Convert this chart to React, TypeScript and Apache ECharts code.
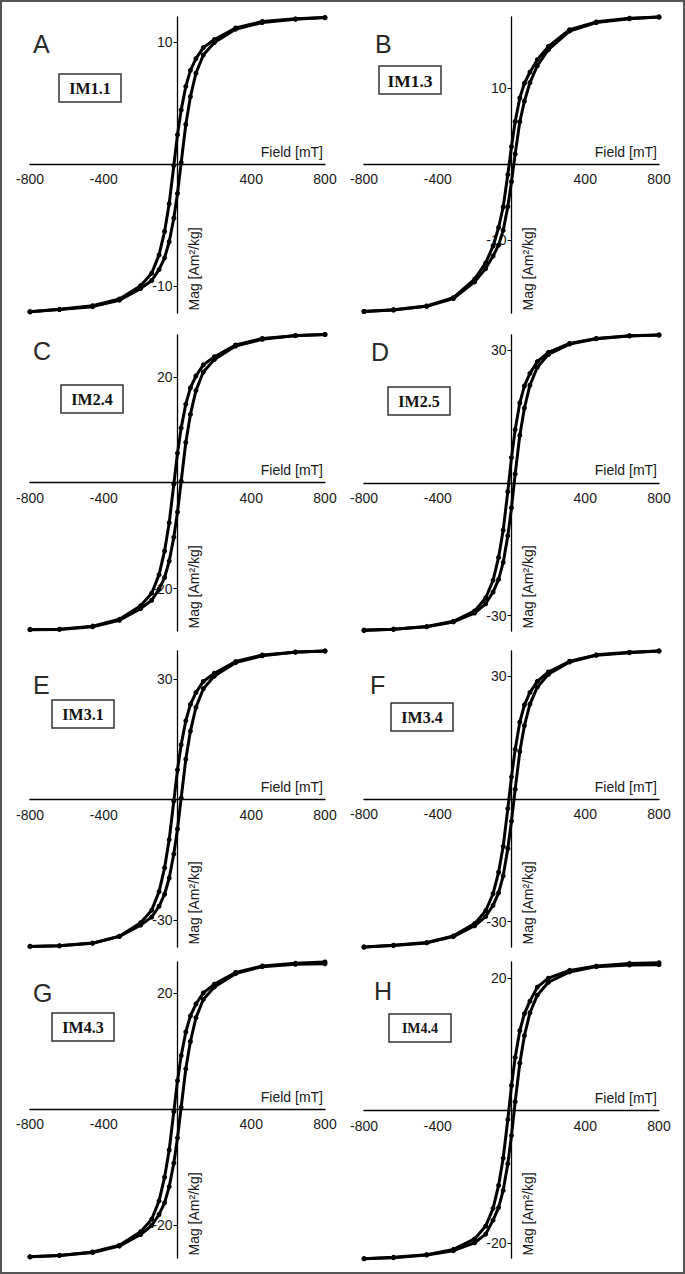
import React, { useEffect, useRef } from 'react';
import * as echarts from 'echarts';

// Applied field (mT): descending branch and ascending branch
const FIELD_DESC = [800, 640, 460, 315, 200, 140, 100, 70, 45, 20, 0, -20, -45, -70, -100, -140, -200, -315, -460, -640, -800];
const FIELD_ASC = [-800, -640, -460, -315, -200, -140, -100, -70, -45, -20, 0, 20, 45, 70, 100, 140, 200, 315, 460, 640, 800];

// Magnetization (Am²/kg) per sample, descending / ascending branch
const IM11_DESC = [12.0, 11.9, 11.68, 11.15, 10.2, 9.54, 8.64, 7.68, 6.36, 4.44, 2.4, -0.12, -3.24, -5.52, -7.44, -8.94, -9.96, -11.05, -11.6, -11.9, -12.1];
const IM11_ASC = [-12.1, -11.92, -11.68, -11.15, -10.2, -9.54, -8.64, -7.68, -6.36, -4.44, -2.4, 0.12, 3.24, 5.52, 7.44, 8.94, 9.96, 11.05, 11.6, 11.86, 12.0];

const IM13_DESC = [19.4, 19.24, 18.76, 17.73, 15.52, 13.77, 12.13, 10.67, 8.73, 5.63, 2.33, -1.36, -5.63, -8.34, -10.77, -13.0, -15.13, -17.58, -18.68, -19.17, -19.4];
const IM13_ASC = [-19.4, -19.2, -18.72, -17.7, -15.5, -13.75, -12.1, -10.65, -8.7, -5.6, -2.3, 1.36, 5.6, 8.3, 10.75, 12.98, 15.1, 17.55, 18.66, 19.16, 19.4];

const IM24_DESC = [28.0, 27.78, 27.24, 26.01, 23.8, 22.26, 20.16, 17.92, 14.84, 10.36, 5.6, -0.28, -7.56, -12.88, -17.36, -20.86, -23.24, -25.79, -27.08, -27.66, -27.72];
const IM24_ASC = [-27.75, -27.7, -27.2, -25.98, -23.78, -22.2, -20.1, -17.9, -14.8, -10.3, -5.55, 0.3, 7.6, 12.9, 17.4, 20.9, 23.28, 25.82, 27.1, 27.8, 28.0];

const IM25_DESC = [33.4, 33.23, 32.63, 31.5, 29.49, 27.39, 24.72, 21.88, 18.04, 12.02, 5.68, -2.0, -10.69, -16.87, -22.04, -26.05, -28.96, -31.3, -32.5, -33.1, -33.4];
const IM25_ASC = [-33.3, -33.1, -32.55, -31.45, -29.45, -27.35, -24.7, -21.85, -18.0, -12.0, -5.65, 2.0, 10.7, 16.9, 22.05, 26.1, 29.0, 31.35, 32.55, 33.2, 33.4];

const IM31_DESC = [37.0, 36.7, 36.0, 34.37, 31.45, 29.42, 26.64, 23.68, 19.61, 13.69, 7.4, -0.37, -9.99, -17.02, -22.94, -27.57, -30.71, -34.08, -35.78, -36.45, -36.6];
const IM31_ASC = [-36.6, -36.45, -35.8, -34.1, -31.3, -29.3, -26.6, -23.6, -19.55, -13.6, -7.35, 0.4, 10.0, 17.05, 22.95, 27.6, 30.75, 34.1, 35.8, 36.75, 37.0];

const IM34_DESC = [36.2, 35.91, 35.26, 33.7, 31.06, 28.78, 26.06, 22.99, 18.82, 12.13, 5.43, -2.35, -11.58, -17.92, -23.17, -27.33, -30.48, -33.49, -35.11, -35.77, -36.2];
const IM34_ASC = [-36.2, -35.85, -35.2, -33.65, -31.0, -28.75, -26.0, -22.95, -18.8, -12.1, -5.4, 2.4, 11.6, 17.95, 23.2, 27.35, 30.5, 33.5, 35.15, 35.8, 36.2];

const IM43_DESC = [25.4, 25.2, 24.71, 23.6, 21.59, 20.07, 18.16, 16.13, 13.34, 9.27, 4.95, -0.38, -6.99, -11.68, -15.75, -18.92, -21.08, -23.39, -24.56, -25.15, -25.4];
const IM43_ASC = [-25.4, -25.15, -24.65, -23.55, -21.55, -20.0, -18.1, -16.1, -13.3, -9.25, -4.9, 0.4, 7.0, 11.7, 15.8, 18.95, 21.1, 23.4, 24.6, 25.0, 25.1];

const IM44_DESC = [22.3, 22.19, 21.79, 21.14, 19.96, 18.62, 16.5, 14.61, 12.04, 8.03, 3.79, -1.34, -7.14, -11.26, -14.72, -17.39, -19.33, -20.9, -21.7, -22.1, -22.3];
const IM44_ASC = [-22.3, -22.15, -21.75, -21.1, -19.9, -18.6, -16.5, -14.6, -12.0, -8.0, -3.75, 1.35, 7.15, 11.3, 14.75, 17.4, 19.35, 20.9, 21.7, 21.95, 22.0];

const PANEL_LETTERS = ['A', 'B', 'C', 'D', 'E', 'F', 'G', 'H'];
const SAMPLE_NAMES = ['IM1.1', 'IM1.3', 'IM2.4', 'IM2.5', 'IM3.1', 'IM3.4', 'IM4.3', 'IM4.4'];
const DESC_SERIES = [IM11_DESC, IM13_DESC, IM24_DESC, IM25_DESC, IM31_DESC, IM34_DESC, IM43_DESC, IM44_DESC];
const ASC_SERIES = [IM11_ASC, IM13_ASC, IM24_ASC, IM25_ASC, IM31_ASC, IM34_ASC, IM43_ASC, IM44_ASC];
const Y_MIN = [-12.2, -19.6, -28.0, -33.5, -36.75, -36.2, -25.6, -22.2];
const Y_MAX = [12.05, 19.4, 27.9, 33.4, 37.0, 36.2, 25.4, 22.4];
const Y_TICK = [10, 10, 20, 30, 30, 30, 20, 20];
const X_TICKS = [-800, -400, 400, 800];
const X_NAME = 'Field [mT]';
const Y_NAME = 'Mag [Am²/kg]';

// Layout (pixels)
const W = 685;
const H = 1274;
const COL_LEFT = [30, 364];
const ROW_TOP = [17, 335, 651, 962];
const GRID_W = 295;
const GRID_H = 296;
const LETTER_POS = [[33, 44], [375, 44], [33, 350.5], [371, 351.5], [33, 685], [370, 685], [33, 992.5], [374, 991]];
const BOX_POS = [[59, 74], [379, 66], [61, 385], [388, 387], [52, 700], [391, 703], [52, 1013], [389, 1014]];
const BOX_FONT = [16, 17.5, 16, 16, 16, 16, 16, 14];

export default function App() {
  const ref = useRef<HTMLDivElement>(null);
  useEffect(() => {
    if (!ref.current) return;
    const chart = echarts.init(ref.current, undefined, { renderer: 'svg' });
    const grids: any[] = [];
    const xAxes: any[] = [];
    const yAxes: any[] = [];
    const series: any[] = [];
    const graphics: any[] = [];
    const sans = '"Liberation Sans", Arial, sans-serif';
    for (let i = 0; i < 8; i++) {
      const col = i % 2;
      const row = Math.floor(i / 2);
      const left = COL_LEFT[col];
      const top = ROW_TOP[row];
      const x0 = left + GRID_W / 2;
      const y0 = top + (GRID_H * Y_MAX[i]) / (Y_MAX[i] - Y_MIN[i]);
      grids.push({ left, top, width: GRID_W, height: GRID_H });
      xAxes.push({
        type: 'value', gridIndex: i, min: -800, max: 800,
        position: 'bottom', offset: y0 - (top + GRID_H),
        axisLine: { onZero: false, lineStyle: { color: '#000', width: 1.3 } },
        axisTick: { show: false },
        axisLabel: { customValues: X_TICKS, fontSize: 14, fontFamily: sans, color: '#1a1a1a', margin: 8 },
        splitLine: { show: false },
      });
      const t = Y_TICK[i];
      yAxes.push({
        type: 'value', gridIndex: i, min: Y_MIN[i], max: Y_MAX[i],
        position: 'left', offset: left - x0,
        axisLine: { onZero: false, lineStyle: { color: '#000', width: 1.3 } },
        axisTick: { show: true, customValues: [-t, t], length: 4, lineStyle: { color: '#000', width: 1 } },
        axisLabel: { customValues: [-t, t], fontSize: 14, fontFamily: sans, color: '#1a1a1a', margin: 5 },
        splitLine: { show: false },
      });
      const lineCommon = {
        type: 'line', xAxisIndex: i, yAxisIndex: i,
        symbol: 'circle', symbolSize: 5, clip: false,
        lineStyle: { color: '#000', width: 3, join: 'round' },
        itemStyle: { color: '#000' },
        silent: true,
      };
      series.push({ ...lineCommon, name: SAMPLE_NAMES[i] + ' desc', data: FIELD_DESC.map((h, k) => [h, DESC_SERIES[i][k]]) });
      series.push({ ...lineCommon, name: SAMPLE_NAMES[i] + ' asc', data: FIELD_ASC.map((h, k) => [h, ASC_SERIES[i][k]]) });

      graphics.push({
        type: 'text', x: left + GRID_W - 2, y: y0 - 12.5,
        style: { text: X_NAME, fontSize: 14, fontFamily: sans, fill: '#1a1a1a', textAlign: 'right', textVerticalAlign: 'middle' },
      });
      graphics.push({
        type: 'text', x: x0 + 16, y: top + GRID_H - 2.5, rotation: Math.PI / 2,
        style: { text: Y_NAME, fontSize: 14, fontFamily: sans, fill: '#1a1a1a', textAlign: 'left', textVerticalAlign: 'middle' },
      });
      graphics.push({
        type: 'text', x: LETTER_POS[i][0], y: LETTER_POS[i][1],
        style: { text: PANEL_LETTERS[i], fontSize: 25, fontFamily: sans, fill: '#2a2a2a', textAlign: 'left', textVerticalAlign: 'middle' },
      });
      graphics.push({
        type: 'rect', shape: { x: BOX_POS[i][0], y: BOX_POS[i][1], width: 62, height: 28 },
        style: { fill: '#fff', stroke: '#333', lineWidth: 1.5 },
      });
      graphics.push({
        type: 'text', x: BOX_POS[i][0] + 31, y: BOX_POS[i][1] + 14.5,
        style: { text: SAMPLE_NAMES[i], fontSize: BOX_FONT[i], fontWeight: 'bold', fontFamily: '"Liberation Serif", "Times New Roman", serif', fill: '#111', textAlign: 'center', textVerticalAlign: 'middle' },
      });
    }
    graphics.push({
      type: 'rect', shape: { x: 1, y: 1, width: W - 2, height: H - 2 },
      style: { fill: 'none', stroke: '#555', lineWidth: 2 }, z: 100,
    });
    chart.setOption({
      animation: false,
      backgroundColor: '#fff',
      grid: grids,
      xAxis: xAxes,
      yAxis: yAxes,
      series,
      graphic: { elements: graphics },
    });
    return () => chart.dispose();
  }, []);
  return <div ref={ref} style={{ position: 'absolute', left: 0, top: 0, width: W, height: H }} />;
}
